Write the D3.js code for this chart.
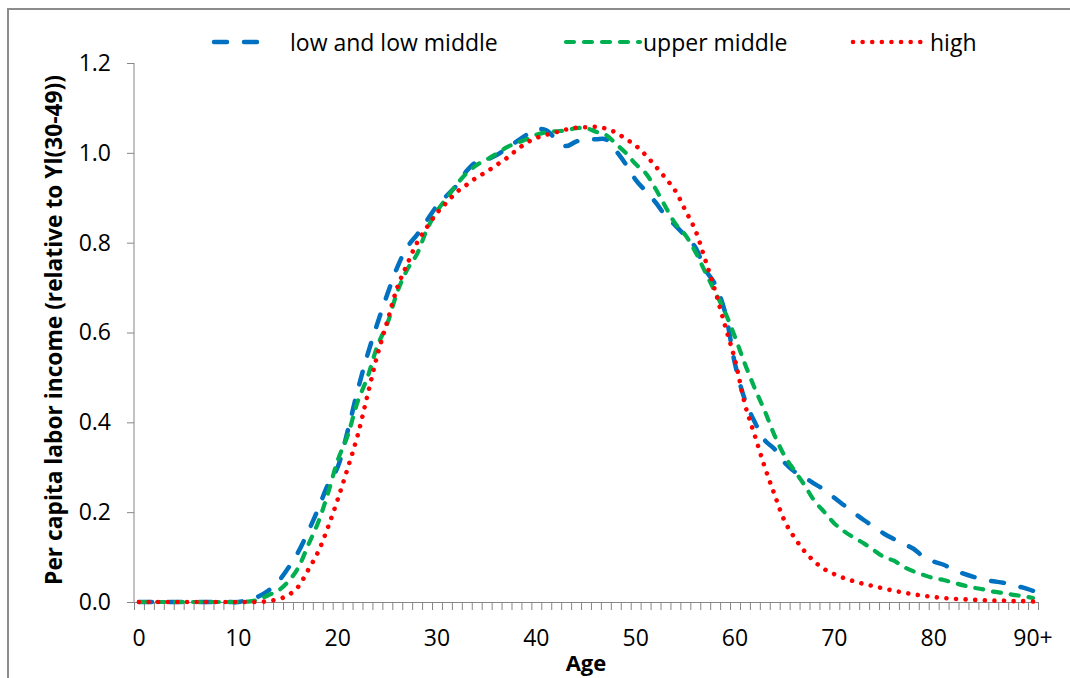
<!DOCTYPE html>
<html>
<head>
<meta charset="utf-8">
<script src="https://cdn.jsdelivr.net/npm/d3@7"></script>
<style>
  html, body { margin: 0; padding: 0; background: #fff; }
  svg { display: block; font-family: "Open Sans", sans-serif; }
</style>
</head>
<body>
<svg id="chart" width="1070" height="678"></svg>
<script>
// Age groups 0..90 (last one is "90+")
const ages = d3.range(0, 91);
const ageTickValues = [0, 10, 20, 30, 40, 50, 60, 70, 80, 90];
const ageTickLabels = ["0", "10", "20", "30", "40", "50", "60", "70", "80", "90+"];
const incomeTicks = [0, 0.2, 0.4, 0.6, 0.8, 1.0, 1.2];

// Per capita labor income relative to YL(30-49), by age
const lowAndLowMiddle = [
  0, 0, 0, 0, 0, 0, 0, 0, 0, 0,
  0, 0.005, 0.012, 0.025, 0.045, 0.075, 0.11, 0.155, 0.205, 0.26,
  0.30, 0.38, 0.47, 0.55, 0.62, 0.685, 0.745, 0.79, 0.818, 0.85,
  0.882, 0.905, 0.928, 0.96, 0.98, 0.985, 0.995, 1.01, 1.025, 1.04,
  1.053, 1.05, 1.03, 1.015, 1.025, 1.03, 1.03, 1.03, 1.005, 0.975,
  0.94, 0.915, 0.89, 0.86, 0.838, 0.815, 0.79, 0.74, 0.707, 0.645,
  0.53, 0.45, 0.40, 0.36, 0.34, 0.31, 0.29, 0.278, 0.263, 0.25,
  0.232, 0.215, 0.198, 0.182, 0.167, 0.152, 0.14, 0.129, 0.118, 0.10,
  0.09, 0.083, 0.072, 0.063, 0.056, 0.05, 0.046, 0.043, 0.037, 0.032,
  0.025
];
const upperMiddle = [
  0, 0, 0, 0, 0, 0, 0, 0, 0, 0,
  0, 0.001, 0.005, 0.015, 0.025, 0.045, 0.075, 0.125, 0.175, 0.24,
  0.315, 0.37, 0.445, 0.50, 0.57, 0.62, 0.69, 0.74, 0.775, 0.83,
  0.87, 0.90, 0.93, 0.955, 0.973, 0.985, 0.998, 1.012, 1.022, 1.03,
  1.04, 1.046, 1.048, 1.05, 1.055, 1.055, 1.047, 1.04, 1.02, 1.0,
  0.975, 0.955, 0.92, 0.88, 0.842, 0.817, 0.78, 0.735, 0.69, 0.645,
  0.59, 0.53, 0.475, 0.425, 0.37, 0.325, 0.292, 0.26, 0.225, 0.20,
  0.175, 0.157, 0.143, 0.13, 0.115, 0.10, 0.092, 0.078, 0.068, 0.06,
  0.053, 0.049, 0.043, 0.037, 0.032, 0.028, 0.023, 0.02, 0.016, 0.013,
  0.009
];
const high = [
  0, 0, 0, 0, 0, 0, 0, 0, 0, 0,
  0, 0, 0, 0.002, 0.006, 0.015, 0.033, 0.07, 0.11, 0.165,
  0.228, 0.297, 0.37, 0.46, 0.55, 0.625, 0.70, 0.752, 0.80, 0.835,
  0.866, 0.89, 0.913, 0.929, 0.945, 0.958, 0.973, 0.988, 1.006, 1.022,
  1.033, 1.04, 1.046, 1.052, 1.056, 1.057, 1.058, 1.054, 1.045, 1.031,
  1.016, 0.995, 0.97, 0.944, 0.915, 0.872, 0.828, 0.762, 0.693, 0.615,
  0.539, 0.44, 0.37, 0.30, 0.238, 0.18, 0.143, 0.113, 0.09, 0.073,
  0.062, 0.053, 0.046, 0.04, 0.035, 0.03, 0.025, 0.021, 0.017, 0.014,
  0.011, 0.009, 0.007, 0.006, 0.005, 0.004, 0.003, 0.003, 0.002, 0.002,
  0.001
];

const seriesNames = ["low and low middle", "upper middle", "high"];
const seriesColors = ["#0070C0", "#00B050", "#FF0000"];

const series = [
  { name: seriesNames[0], values: lowAndLowMiddle, color: seriesColors[0], dash: "13,17", width: 4.5 },
  { name: seriesNames[1], values: upperMiddle,     color: seriesColors[1], dash: "8,10",  width: 4.2 },
  { name: seriesNames[2], values: high,            color: seriesColors[2], dash: "0.01,9.6", width: 4.6 }
];

const svg = d3.select("#chart");
const axisColor = "#868686";
const labelSize = 23;

// outer frame
svg.append("rect")
  .attr("x", 8).attr("y", 9)
  .attr("width", 1100).attr("height", 700)
  .attr("fill", "none")
  .attr("stroke", "#8c8c8c")
  .attr("stroke-width", 2);

const plotLeft = 134, plotRight = 1038, plotTop = 63, plotBottom = 602;

const x = d3.scaleBand().domain(ages).range([plotLeft, plotRight]);
const xEdge = d3.scaleLinear().domain([0, ages.length]).range([plotLeft, plotRight]);
const y = d3.scaleLinear().domain([0, 1.2]).range([plotBottom, plotTop]);
const cx = a => x(a) + x.bandwidth() / 2;

// y axis
const yAxis = svg.append("g")
  .attr("transform", `translate(${plotLeft},0)`)
  .call(d3.axisLeft(y).tickValues(incomeTicks).tickFormat(d3.format(".1f")).tickSize(7).tickPadding(16));
yAxis.select(".domain").attr("stroke", axisColor).attr("d", `M0,${plotTop}V${plotBottom}`);
yAxis.selectAll(".tick line").attr("stroke", axisColor);
yAxis.selectAll(".tick text")
  .attr("fill", "#000").attr("font-size", labelSize)
  .attr("font-family", "'Open Sans', sans-serif");

// x axis: tick marks between categories
const xTicks = svg.append("g")
  .attr("transform", `translate(0,${plotBottom})`)
  .call(d3.axisBottom(xEdge).tickValues(d3.range(0, ages.length + 1)).tickFormat("").tickSize(8).tickSizeOuter(0));
xTicks.select(".domain").attr("stroke", axisColor);
xTicks.selectAll(".tick line").attr("stroke", axisColor);

// x axis labels, centred on categories
const xLabels = svg.append("g")
  .attr("transform", `translate(0,${plotBottom})`)
  .call(d3.axisBottom(x).tickValues(ageTickValues)
    .tickFormat((d, i) => ageTickLabels[i]).tickSize(0).tickPadding(28));
xLabels.select(".domain").remove();
xLabels.selectAll(".tick text")
  .attr("fill", "#000").attr("font-size", labelSize)
  .attr("font-family", "'Open Sans', sans-serif");

// axis titles
svg.append("text")
  .attr("x", 586).attr("y", 671)
  .attr("text-anchor", "middle")
  .attr("font-weight", "bold").attr("font-size", 22)
  .text("Age");

const yTitle = svg.append("text")
  .attr("transform", "translate(62,330) rotate(-90)")
  .attr("text-anchor", "middle")
  .attr("font-weight", "bold").attr("font-size", 20)
  .text("Per capita labor income (relative to Yl(30-49))");
// fit the rotated title to the height it spans beside the axis
const titleLen = yTitle.node().getComputedTextLength();
yTitle.attr("font-size", 20 * 510 / titleLen);

// series lines
const line = d3.line()
  .x((d, i) => cx(ages[i]))
  .y(d => y(d))
  .curve(d3.curveCatmullRom.alpha(0.5));

svg.append("g").selectAll("path")
  .data(series)
  .join("path")
  .attr("d", s => line(s.values))
  .attr("fill", "none")
  .attr("stroke", s => s.color)
  .attr("stroke-width", s => s.width)
  .attr("stroke-dasharray", s => s.dash)
  .attr("stroke-linecap", "round")
  .attr("stroke-linejoin", "round");

// legend
const legendItems = [
  { x1: 214, x2: 272, tx: 290 },
  { x1: 566, x2: 640, tx: 643 },
  { x1: 853, x2: 925, tx: 930 }
];
const legend = svg.append("g");
series.forEach((s, i) => {
  const it = legendItems[i];
  legend.append("line")
    .attr("x1", it.x1).attr("x2", it.x2)
    .attr("y1", 42).attr("y2", 42)
    .attr("stroke", s.color)
    .attr("stroke-width", s.width)
    .attr("stroke-dasharray", s.dash)
    .attr("stroke-linecap", "round");
  legend.append("text")
    .attr("x", it.tx).attr("y", 42)
    .attr("dominant-baseline", "central")
    .attr("font-size", 23)
    .text(s.name);
});
</script>
</body>
</html>
